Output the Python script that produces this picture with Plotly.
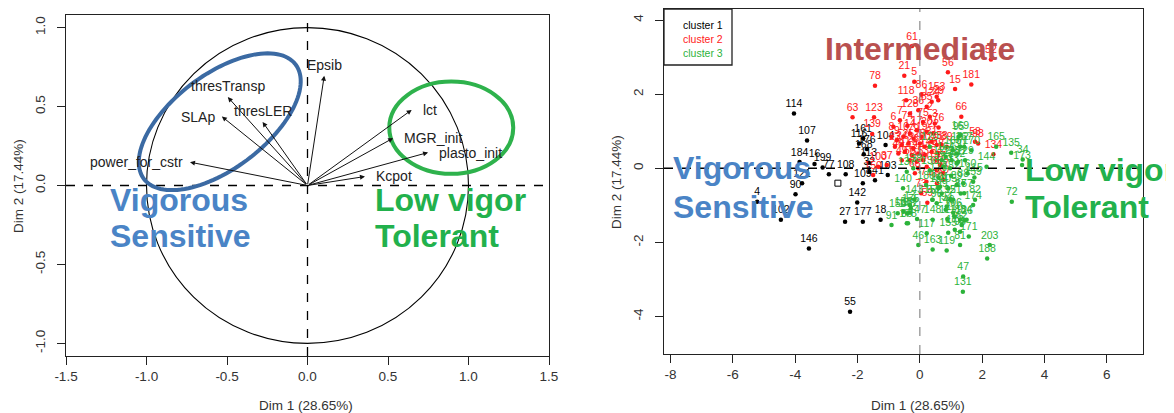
import numpy as np
import plotly.graph_objects as go

W, H = 1174, 413

# ---------------- Left panel data: variables factor map ----------------
var_names = ["Epsib", "thresTransp", "thresLER", "SLAp", "power_for_cstr",
             "lct", "MGR_init", "plasto_init", "Kcpot"]
var_dim1 = [0.104, -0.495, -0.279, -0.532, -0.730, 0.647, 0.532, 0.749, 0.357]
var_dim2 = [0.695, 0.560, 0.403, 0.437, 0.148, 0.479, 0.300, 0.209, 0.057]

left_xticks = [-1.5, -1.0, -0.5, 0.0, 0.5, 1.0, 1.5]
left_yticks = [-1.0, -0.5, 0.0, 0.5, 1.0]
right_xticks = [-8, -6, -4, -2, 0, 2, 4, 6]
right_yticks = [-4, -2, 0, 2, 4]

# ---------------- Right panel data: individuals by cluster ----------------
c1_labels = ["114", "107", "184", "16", "199", "77", "108", "121", "4", "102", "90",
             "146", "55", "27", "177", "18", "142", "109", "141", "103", "113", "168",
             "161", "116", "104", "32", "176"]
c1_x = [-4.04, -3.62, -3.86, -3.38, -3.12, -2.92, -2.38, -3.78, -5.22, -4.46, -3.99,
        -3.56, -2.24, -2.40, -1.83, -1.26, -2.01, -1.83, -1.44, -1.03, -1.64, -1.80,
        -1.82, -1.95, -1.10, -1.62, -1.70]
c1_y = [1.48, 0.75, 0.17, 0.12, 0.02, -0.16, -0.16, -0.40, -0.90, -1.39, -0.70,
        -2.16, -3.87, -1.44, -1.44, -1.39, -0.92, -0.40, -0.32, -0.18, 0.15, 0.38,
        0.81, 0.67, 0.63, -0.09, 0.52]

sup_x = [-2.63]
sup_y = [-0.40]

c2_labels = ["61", "52", "56", "21", "5", "15", "181", "78", "118", "86", "153", "66",
             "63", "123", "139", "58", "98", "134", "37", "59", "150", "100",
             "128", "36", "85", "124", "29", "2", "3", "6", "7", "8", "9", "10", "14",
             "17", "19", "20", "22", "23", "24", "25", "26", "28", "30", "31", "35",
             "38", "39", "40", "41", "42", "43", "44", "45", "48", "49", "50", "51",
             "53", "54", "57", "60", "64", "65", "67", "68", "69", "70", "71", "73",
             "74", "75", "76", "79"]
c2_x = [-0.25, 2.28, 0.90, -0.50, -0.18, 1.13, 1.65, -1.44, -0.44, 0.05, 0.54, 1.33,
        -2.16, -1.47, -1.53, 1.77, 1.87, 2.36, -1.06, 0.24, -1.50, -1.34,
        -0.32, -0.05, 0.22, 0.38, 0.59, 0.32, 0.48, -0.85, -0.64, -0.91, -0.74, -0.53,
        -0.32, -0.10, 0.06, 0.22, 0.43, -0.80, -0.58, -0.37, -0.21, 0.00, 0.16, 0.38,
        0.54, 0.70, 0.86, -0.69, -0.48, -0.26, -0.05, 0.16, 0.38, 0.59, -0.58, -0.32,
        -0.10, 0.11, 0.54, 0.65, 0.22, -0.05, 0.54, 0.75, -0.16, 0.55, 0.75, 0.21,
        0.04, -0.40, 0.10, 0.60, -0.20]
c2_y = [3.30, 2.94, 2.59, 2.50, 2.34, 2.14, 2.26, 2.23, 1.84, 2.00, 1.93, 1.39,
        1.38, 1.38, 0.93, 0.72, 0.67, 0.38, 0.09, -0.93, -0.18, 0.04,
        1.48, 1.57, 1.66, 1.80, 1.84, 1.39, 1.21, 1.12, 1.30, 0.85, 0.76, 0.85,
        0.94, 1.03, 0.85, 0.99, 0.94, 0.58, 0.63, 0.67, 0.54, 0.67, 0.58, 0.72,
        0.63, 0.63, 0.58, 0.40, 0.45, 0.36, 0.40, 0.36, 0.45, 0.40, 0.22, 0.22,
        0.18, 0.22, 0.22, 0.09, 0.04, 0.00, -0.05, -0.13, -0.13, -0.40, -0.30, -0.36,
        -0.67, 1.15, 1.25, 1.10, 0.80]

c3_labels = ["95", "165", "135", "34", "173", "144", "115", "72", "203", "188", "47",
             "131", "46", "163", "119", "117", "91", "155", "93", "62", "174", "82",
             "126", "156", "158", "13", "80", "81", "83", "84", "87", "88", "89",
             "92", "94", "96", "97", "99", "101", "105", "106", "110", "111", "112",
             "120", "122", "125", "127", "129", "130", "132", "133", "136", "137",
             "138", "140", "143", "145", "147", "148", "149", "151", "152", "154",
             "157", "159", "160", "162", "164", "166", "167", "169", "170", "171",
             "172", "175", "178", "179", "180", "182", "183"]
c3_x = [1.24, 2.45, 2.93, 3.30, 3.28, 2.14, 1.75, 2.95, 2.24, 2.16, 1.39,
        1.38, -0.05, 0.41, 0.86, 0.22, -0.91, 0.91, 1.29, 1.34, 1.71, 1.77,
        1.42, -0.71, -0.53, -0.32, -0.42, 1.29, 1.29, 1.50, 1.31, 1.39, 1.18,
        0.97, 0.86, 0.54, 0.40, 0.70, 0.65, 0.91, 1.07, 1.10, 0.88, -0.32,
        0.32, 0.70, 1.02, 1.23, 1.45, 1.18, 1.29, 0.97, 0.32, -0.42, -0.21,
        -0.54, -0.18, -0.41, -0.09, 0.41, 0.83, 1.06, 0.41, 0.59, 1.42, 1.71,
        1.53, 1.18, 0.83, 1.06, 1.42, 1.30, 1.65, 1.57, 1.12, -0.29, -0.38,
        0.60, 0.20, 1.00, 0.75]
c3_y = [0.85, 0.58, 0.42, 0.24, 0.09, 0.04, -0.25, -0.90, -2.07, -2.43, -2.92,
        -3.33, -2.07, -2.19, -2.22, -1.75, -1.53, -1.74, -1.71, -1.53, -0.99, -0.85,
        -1.41, -1.21, -1.17, -0.99, -1.48, -2.07, -1.39, -1.39, -0.68, -0.40, -0.45,
        -0.85, -1.03, -0.94, -0.85, -0.68, -0.50, -0.54, -1.20, -1.29, -1.37, -1.20,
        0.58, 0.22, 0.22, 0.18, 0.22, 0.40, 0.58, 0.00, -0.05, -0.09, 0.00,
        -0.54, -0.85, -1.21, -1.37, -1.39, -1.12, -0.85, -0.85, -0.54, -0.67, -0.36,
        -0.13, 0.13, 0.31, 0.49, 0.58, 0.90, 0.49, -1.84, -1.66, -1.08, -1.48,
        -0.25, -0.45, -0.20, 0.05]

cluster_names = ["cluster 1", "cluster 2", "cluster 3"]
cluster_colors = ["#000000", "#ff1a1a", "#2cb33a"]

# ---------------- Layout geometry (page pixels; page body has an 8px margin) ----------------
OFF = 8

def px(x):
    return (x - OFF) / W

def py(y):
    return 1 - (y - OFF) / H

L_dom_x = [px(66), px(549)]
L_dom_y = [py(356), py(15)]
R_dom_x = [px(664), px(1143)]
R_dom_y = [py(354), py(9)]
L_xr = [-1.5, 1.5]
L_yr = [-1.08, 1.08]
R_xr = [-8.21, 7.16]
R_yr = [-5.01, 4.30]

FONT = "Liberation Sans, Arial, Helvetica, sans-serif"
axis_col = "#222222"
tick_font = dict(family=FONT, size=13.5, color="#333333")

fig = go.Figure()

for xs, ys, labs, col in ((c1_x, c1_y, c1_labels, cluster_colors[0]),
                          (c2_x, c2_y, c2_labels, cluster_colors[1]),
                          (c3_x, c3_y, c3_labels, cluster_colors[2])):
    fig.add_trace(go.Scatter(x=xs, y=ys, text=labs, mode="markers+text",
                             textposition="top center",
                             marker=dict(color=col, size=4.5),
                             textfont=dict(family=FONT, size=10.5, color=col),
                             xaxis="x2", yaxis="y2", showlegend=False, hoverinfo="skip"))
fig.add_trace(go.Scatter(x=sup_x, y=sup_y, mode="markers",
                         marker=dict(color="#000000", size=6, symbol="square-open",
                                     line=dict(width=1)),
                         xaxis="x2", yaxis="y2", showlegend=False, hoverinfo="skip"))

# invisible trace to anchor left axes
fig.add_trace(go.Scatter(x=[0], y=[0], mode="markers", marker=dict(opacity=0),
                         xaxis="x", yaxis="y", showlegend=False, hoverinfo="skip"))

shapes = []
annotations = []

# left panel: unit circle and dashed axes
shapes.append(dict(type="circle", xref="x", yref="y", x0=-1, x1=1, y0=-1, y1=1,
                   line=dict(color="#000000", width=1.1)))
shapes.append(dict(type="line", xref="x", yref="y", x0=L_xr[0], x1=L_xr[1], y0=0, y1=0,
                   line=dict(color="#000000", width=1.3, dash="dash")))
shapes.append(dict(type="line", xref="x", yref="y", x0=0, x1=0, y0=L_yr[0], y1=L_yr[1],
                   line=dict(color="#000000", width=1.3, dash="dash")))

# right panel dashed axes
shapes.append(dict(type="line", xref="x2", yref="y2", x0=R_xr[0], x1=R_xr[1], y0=0, y1=0,
                   line=dict(color="#000000", width=1.5, dash="dash")))
shapes.append(dict(type="line", xref="x2", yref="y2", x0=0, x1=0, y0=R_yr[0], y1=R_yr[1],
                   line=dict(color="#808080", width=1.1, dash="dash")))

# ellipses (annotation overlays on left panel)
ux = (L_xr[1] - L_xr[0]) / (549 - 66)   # data per pixel x
uy = (L_yr[1] - L_yr[0]) / (356 - 15)   # data per pixel y
t = np.linspace(0, 2 * np.pi, 120)
ang = np.deg2rad(37)
a_px, b_px = 95, 47
ex = -0.545 + (a_px * np.cos(t) * np.cos(ang) - b_px * np.sin(t) * np.sin(ang)) * ux
ey = 0.404 + (a_px * np.cos(t) * np.sin(ang) + b_px * np.sin(t) * np.cos(ang)) * uy
path = "M " + " L ".join(f"{a:.4f},{b:.4f}" for a, b in zip(ex, ey)) + " Z"
shapes.append(dict(type="path", xref="x", yref="y", path=path, layer="above",
                   line=dict(color="#3b6aa3", width=4)))
shapes.append(dict(type="circle", xref="x", yref="y", x0=0.893 - 0.385, x1=0.893 + 0.385,
                   y0=0.366 - 0.292, y1=0.366 + 0.292, layer="above",
                   line=dict(color="#2eb24c", width=4)))

# legend box on right panel
shapes.append(dict(type="rect", xref="paper", yref="paper", x0=px(664), x1=px(732),
                   y0=py(65), y1=py(9), line=dict(color="#222222", width=1.3)))
for i, (nm, col) in enumerate(zip(cluster_names, cluster_colors)):
    annotations.append(dict(xref="paper", yref="paper", x=px(681), y=py(25 + 14 * i),
                            xanchor="left", yanchor="middle", showarrow=False, text=nm,
                            font=dict(family=FONT, size=10.5, color=col)))

# arrows for variables
lab_font = dict(family=FONT, size=14, color="#222")
for nm, vx, vy in zip(var_names, var_dim1, var_dim2):
    annotations.append(dict(xref="x", yref="y", axref="x", ayref="y", x=vx, y=vy,
                            ax=0, ay=0, text="", showarrow=True, arrowhead=2,
                            arrowsize=1, arrowwidth=1, arrowcolor="#111111", standoff=0))
    if abs(vx) > abs(vy):
        if vx > 0:
            annotations.append(dict(xref="x", yref="y", x=vx, y=vy, text=nm,
                                    showarrow=False, xanchor="left", yanchor="middle",
                                    xshift=9, font=lab_font))
        else:
            annotations.append(dict(xref="x", yref="y", x=vx, y=vy, text=nm,
                                    showarrow=False, xanchor="right", yanchor="middle",
                                    xshift=-5, font=lab_font))
    else:
        annotations.append(dict(xref="x", yref="y", x=vx, y=vy, text=nm,
                                showarrow=False, xanchor="center", yanchor="bottom",
                                yshift=1, font=lab_font))

# big group labels
BLUE = "#4a84c6"
GREEN = "#22b14c"
REDB = "#b9504f"
big = dict(family="Liberation Sans, Arial, sans-serif", size=32)
def big_text(txt, xp, yp, col, anchor="left"):
    annotations.append(dict(xref="paper", yref="paper", x=px(xp), y=py(yp), text=f"<b>{txt}</b>",
                            showarrow=False, xanchor=anchor, yanchor="middle",
                            font=dict(color=col, **big)))

big_text("Vigorous", 108, 200, BLUE)
big_text("Sensitive", 108, 236, BLUE)
big_text("Low vigor", 373, 200, GREEN)
big_text("Tolerant", 373, 236, GREEN)
big_text("Vigorous", 671, 168, BLUE)
big_text("Sensitive", 671, 207, BLUE)
big_text("Low vigor", 1023, 170, GREEN)
big_text("Tolerant", 1023, 207, GREEN)
big_text("Intermediate", 920, 49, REDB, anchor="center")

# axis titles
for xp in (306, 918):
    annotations.append(dict(xref="paper", yref="paper", x=px(xp), y=py(405), text="Dim 1 (28.65%)",
                            showarrow=False, xanchor="center", yanchor="middle",
                            font=dict(family=FONT, size=13.5, color="#333")))
for xp, yp in ((18, 186), (617, 182)):
    annotations.append(dict(xref="paper", yref="paper", x=px(xp), y=py(yp), text="Dim 2 (17.44%)",
                            showarrow=False, xanchor="center", yanchor="middle", textangle=-90,
                            font=dict(family=FONT, size=13.5, color="#333")))

common = dict(showgrid=False, zeroline=False, showline=True, mirror=True, automargin=False,
              linecolor=axis_col, linewidth=1.3, ticks="outside", ticklen=8,
              tickcolor=axis_col, tickwidth=1.2, tickfont=tick_font, fixedrange=True)

fig.update_layout(
    template="none",
    width=W, height=H, margin=dict(l=0, r=0, t=0, b=0, pad=0, autoexpand=False),
    paper_bgcolor="white", plot_bgcolor="white", showlegend=False,
    xaxis=dict(domain=L_dom_x, range=L_xr, tickvals=left_xticks,
               ticktext=[f"{v:.1f}" for v in left_xticks], anchor="y", **common),
    yaxis=dict(domain=L_dom_y, range=L_yr, tickvals=left_yticks,
               ticktext=[f"{v:.1f}" for v in left_yticks], tickangle=-90, anchor="x",
               ticklabelstandoff=6, **common),
    xaxis2=dict(domain=R_dom_x, range=R_xr, tickvals=right_xticks,
                ticktext=[str(v) for v in right_xticks], anchor="y2", **common),
    yaxis2=dict(domain=R_dom_y, range=R_yr, tickvals=right_yticks,
                ticktext=[str(v) for v in right_yticks], tickangle=-90, anchor="x2",
                ticklabelstandoff=6, **common),
    shapes=shapes, annotations=annotations,
)

fig.write_html("out.html")
